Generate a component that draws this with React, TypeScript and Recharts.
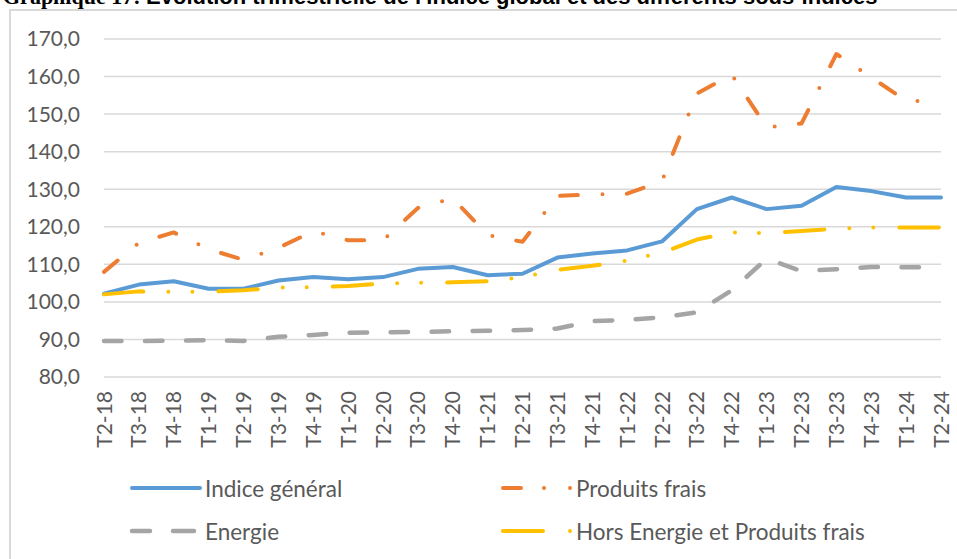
import React from "react";
import { LineChart, Line, XAxis, YAxis, CartesianGrid } from "recharts";

// Quarters on the category axis
const QUARTERS = [
  "T2-18", "T3-18", "T4-18", "T1-19", "T2-19", "T3-19", "T4-19", "T1-20", "T2-20",
  "T3-20", "T4-20", "T1-21", "T2-21", "T3-21", "T4-21", "T1-22", "T2-22", "T3-22",
  "T4-22", "T1-23", "T2-23", "T3-23", "T4-23", "T1-24", "T2-24",
];

const INDICE_GENERAL = [
  102.2, 104.6, 105.5, 103.5, 103.5, 105.7, 106.6, 106.0, 106.6, 108.8, 109.3, 107.1, 107.5,
  111.8, 112.9, 113.7, 116.1, 124.7, 127.8, 124.7, 125.6, 130.6, 129.5, 127.8, 127.8,
];
const PRODUITS_FRAIS = [
  108.0, 115.7, 118.5, 114.0, 111.2, 114.4, 118.8, 116.4, 116.4, 125.0, 127.6, 117.8, 116.0,
  128.2, 128.6, 128.8, 132.2, 155.5, 160.5, 146.5, 147.5, 166.0, 159.8, 153.5, 153.5,
];
const ENERGIE = [
  89.6, 89.6, 89.7, 89.8, 89.6, 90.7, 91.2, 91.8, 91.9, 92.0, 92.2, 92.3, 92.5,
  92.9, 94.9, 95.2, 95.9, 97.2, 103.1, 111.5, 108.2, 108.7, 109.3, 109.2, 109.2,
];
const HORS_ENERGIE_PF = [
  102.0, 102.8, 102.7, 102.7, 103.1, 103.8, 103.9, 104.2, 104.9, 105.1, 105.2, 105.5, 106.6,
  108.5, 109.6, 111.0, 113.1, 116.6, 118.5, 118.3, 118.9, 119.5, 119.8, 119.8, 119.8,
];

const Y_TICKS = [80, 90, 100, 110, 120, 130, 140, 150, 160, 170];

const BLUE = "#5B9BD5";
const ORANGE = "#ED7D31";
const GREY = "#A5A5A5";
const YELLOW = "#FFC000";
const GRID = "#D9D9D9";
const TEXT = "#595959";
const FONT = "Lato, 'Open Sans', sans-serif";

const data = QUARTERS.map((q, i) => ({
  q,
  general: INDICE_GENERAL[i],
  frais: PRODUITS_FRAIS[i],
  energie: ENERGIE[i],
  hors: HORS_ENERGIE_PF[i],
}));

const fmt = (v: number) => v.toFixed(1).replace(".", ",");

function QuarterTick({ x, y, payload }: any) {
  return (
    <text
      x={0}
      y={0}
      transform={`translate(${x},${y + 14}) rotate(-90)`}
      textAnchor="end"
      dy="0.36em"
      fill={TEXT}
      fontSize={21}
      fontFamily={FONT}
    >
      {payload.value}
    </text>
  );
}

function LegendItem({ icon, label, left, top }: { icon: React.ReactNode; label: string; left: number; top: number }) {
  return (
    <div style={{ position: "absolute", left, top: top - 15, height: 30, display: "flex", alignItems: "center" }}>
      <svg width={76} height={30} style={{ display: "block" }}>
        {icon}
      </svg>
      <span style={{ marginLeft: 1, fontFamily: FONT, fontSize: 22.5, color: TEXT, whiteSpace: "nowrap" }}>{label}</span>
    </div>
  );
}

export default function App() {
  return (
    <div style={{ position: "absolute", left: 0, top: 0, width: 957, height: 559, overflow: "hidden", background: "#fff" }}>
      <svg width={957} height={20} style={{ position: "absolute", left: 0, top: 0 }}>
        <text x={3} y={4} fontSize={22} fontWeight="bold" fill="#000">
          <tspan fontFamily="'Liberation Serif', 'Times New Roman', serif">Graphique 17: </tspan>
          <tspan fontFamily="'Liberation Sans', Arial, sans-serif">
            Evolution trimestrielle de l'indice global et des différents sous-indices
          </tspan>
        </text>
      </svg>
      <div
        style={{
          position: "absolute",
          left: 9,
          top: 9,
          width: 1000,
          height: 600,
          borderLeft: `2px solid ${GRID}`,
          borderTop: `2px solid ${GRID}`,
        }}
      />
      <div style={{ position: "absolute", left: 0, top: 0 }}>
        <LineChart width={957} height={559} data={data} margin={{ top: 39, right: 16, bottom: 102, left: 0 }}>
          <CartesianGrid vertical={false} stroke={GRID} strokeWidth={1.5} />
          <XAxis
            dataKey="q"
            axisLine={false}
            tickLine={false}
            tickSize={0}
            tickMargin={0}
            height={80}
            interval={0}
            tick={<QuarterTick />}
          />
          <YAxis
            domain={[80, 170]}
            ticks={Y_TICKS}
            axisLine={false}
            tickLine={false}
            tickSize={0}
            tickMargin={24}
            width={104}
            tickFormatter={fmt}
            tick={{ fill: TEXT, fontSize: 21, fontFamily: FONT }}
          />
          <Line
            dataKey="general"
            type="linear"
            stroke={BLUE}
            strokeWidth={4}
            strokeLinecap="round"
            strokeLinejoin="round"
            dot={false}
            isAnimationActive={false}
          />
          <Line
            dataKey="frais"
            type="linear"
            stroke={ORANGE}
            strokeWidth={4}
            strokeDasharray="17.7 24.7 0 24.3"
            strokeLinecap="round"
            strokeLinejoin="round"
            dot={false}
            isAnimationActive={false}
          />
          <Line
            dataKey="energie"
            type="linear"
            stroke={GREY}
            strokeWidth={4.5}
            strokeDasharray="17.5 23.5"
            strokeLinecap="round"
            strokeLinejoin="round"
            dot={false}
            isAnimationActive={false}
          />
          <Line
            dataKey="hors"
            type="linear"
            stroke={YELLOW}
            strokeWidth={4}
            strokeDasharray="39.5 25 0 24 0 26"
            strokeLinecap="round"
            strokeLinejoin="round"
            dot={false}
            isAnimationActive={false}
          />
        </LineChart>
      </div>
      <LegendItem
        left={128}
        top={488}
        label="Indice général"
        icon={<line x1={4} y1={15} x2={72} y2={15} stroke={BLUE} strokeWidth={4} strokeLinecap="round" />}
      />
      <LegendItem
        left={499}
        top={488}
        label="Produits frais"
        icon={
          <g stroke={ORANGE} strokeWidth={4} strokeLinecap="round">
            <line x1={4} y1={15} x2={22} y2={15} />
            <line x1={45} y1={15} x2={45} y2={15} />
            <line x1={71} y1={15} x2={71} y2={15} />
          </g>
        }
      />
      <LegendItem
        left={128}
        top={531}
        label="Energie"
        icon={
          <g stroke={GREY} strokeWidth={4.5} strokeLinecap="round">
            <line x1={4} y1={15} x2={22} y2={15} />
            <line x1={45} y1={15} x2={66} y2={15} />
          </g>
        }
      />
      <LegendItem
        left={499}
        top={531}
        label="Hors Energie et Produits frais"
        icon={
          <g stroke={YELLOW} strokeWidth={4} strokeLinecap="round">
            <line x1={4} y1={15} x2={44} y2={15} />
            <line x1={71} y1={15} x2={71} y2={15} />
          </g>
        }
      />
    </div>
  );
}
